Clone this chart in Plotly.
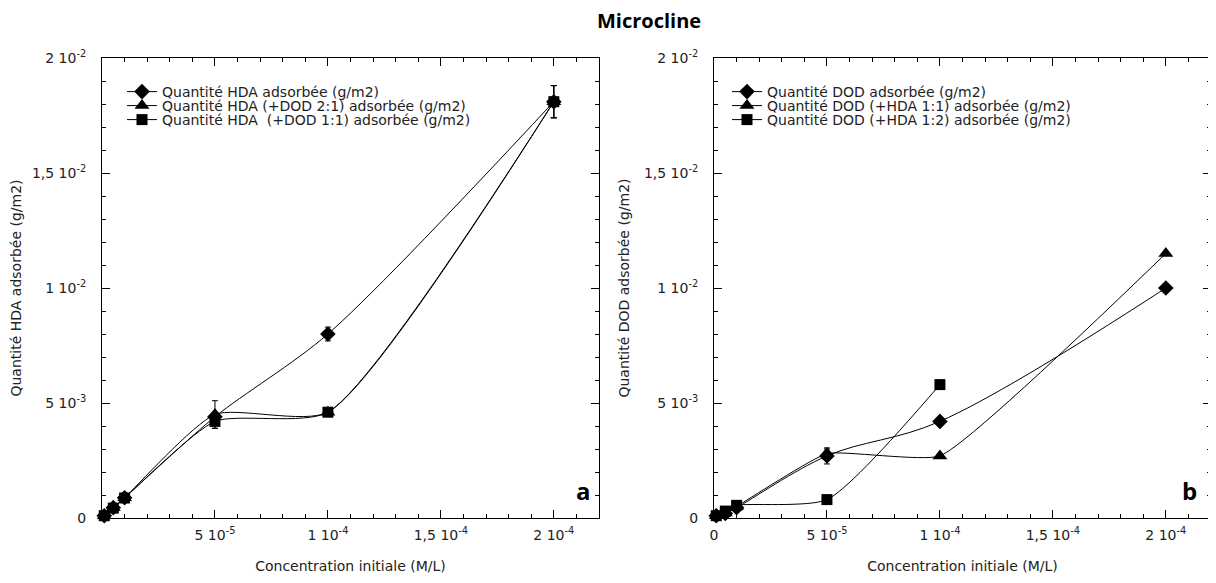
import plotly.graph_objects as go

# concentration initiale (M/L)
conc = [1e-6, 5e-6, 1e-5, 5e-5, 1e-4, 2e-4]
conc_short = [1e-6, 5e-6, 1e-5, 5e-5, 1e-4]

# panel a : HDA adsorbee (g/m2)
hda_seul = [0.0001, 0.00045, 0.00088, 0.0044, 0.0080, 0.0181]
hda_seul_err = [0, 0, 0, 0.0002, 0.0003, 0.0007]
hda_dod21 = [0.0001, 0.00045, 0.00088, 0.0045, 0.0046, 0.0181]
hda_dod21_err = [0, 0, 0, 0.0006, 0.0001, 0.0007]
hda_dod11 = [0.0001, 0.00043, 0.00087, 0.0042, 0.0046, 0.0181]
hda_dod11_err = [0, 0, 0, 0.0003, 0.0001, 0.0007]

# panel b : DOD adsorbee (g/m2)
dod_seul = [0.0001, 0.0002, 0.00045, 0.0027, 0.0042, 0.0100]
dod_seul_err = [0, 0, 0, 0.00035, 0.0001, 0]
dod_hda11 = [0.0001, 0.00022, 0.0005, 0.0028, 0.0027, 0.0115]
dod_hda11_err = [0, 0, 0, 0.0002, 0, 0]
dod_hda12 = [0.0001, 0.0003, 0.00055, 0.0008, 0.0058]

x_vals_a = [5e-5, 1e-4, 1.5e-4, 2e-4]
x_vals_b = [0, 5e-5, 1e-4, 1.5e-4, 2e-4]
x_text = {0: "0", 5e-5: "5 10<sup>-5</sup>", 1e-4: "1 10<sup>-4</sup>",
          1.5e-4: "1,5 10<sup>-4</sup>", 2e-4: "2 10<sup>-4</sup>"}
y_vals = [0, 5e-3, 1e-2, 1.5e-2, 2e-2]
y_text = ["0", "5 10<sup>-3</sup>", "1 10<sup>-2</sup>", "1,5 10<sup>-2</sup>", "2 10<sup>-2</sup>"]

W, H = 1216, 583
OFF = 8  # page body margin of the html page


def px(x):
    return (x - OFF) / W


def py(y):
    return 1 - (y - OFF) / H


FONT = "DejaVu Sans"
TXT = "#222"
FS = 14

fig = go.Figure()


def add_serie(x, y, err, name, symbol, size, xa, ya, leg, smooth=1.0):
    kw = {}
    if err is not None:
        kw["error_y"] = dict(type="data", array=err, visible=True, color="black",
                             thickness=1, width=3)
    fig.add_trace(go.Scatter(
        x=x, y=y, name=name, mode="lines+markers",
        line=dict(color="black", width=1, shape="spline", smoothing=smooth),
        marker=dict(symbol=symbol, size=size, color="black"),
        xaxis=xa, yaxis=ya, legend=leg, cliponaxis=False, **kw
    ))


add_serie(conc, hda_seul, hda_seul_err, "Quantité HDA adsorbée (g/m2)", "diamond", 12, "x", "y", "legend", 0.8)
add_serie(conc, hda_dod21, hda_dod21_err, "Quantité HDA (+DOD 2:1) adsorbée (g/m2)", "triangle-up", 13, "x", "y", "legend2", 0.6)
add_serie(conc, hda_dod11, hda_dod11_err, "Quantité HDA  (+DOD 1:1) adsorbée (g/m2)", "square", 11, "x", "y", "legend3", 0.6)

add_serie(conc, dod_seul, dod_seul_err, "Quantité DOD adsorbée (g/m2)", "diamond", 12, "x2", "y2", "legend4", 1.0)
add_serie(conc, dod_hda11, dod_hda11_err, "Quantité DOD (+HDA 1:1) adsorbée (g/m2)", "triangle-up", 13, "x2", "y2", "legend5", 0.4)
add_serie(conc_short, dod_hda12, None, "Quantité DOD (+HDA 1:2) adsorbée (g/m2)", "square", 11, "x2", "y2", "legend6", 0.6)

axis_common = dict(
    showline=True, linecolor="black", linewidth=1, mirror="ticks", automargin=False,
    ticks="inside", ticklen=8, tickcolor="black", showgrid=False, zeroline=False,
    tickfont=dict(family=FONT, size=FS, color=TXT),
)
xaxis_common = dict(axis_common, range=[0, 2.2e-4], tickmode="array", ticklabelstandoff=4,
                    minor=dict(dtick=1e-5, ticks="inside", ticklen=4, tickcolor="black"),
                    title=dict(text="Concentration initiale (M/L)", standoff=19,
                               font=dict(family=FONT, size=FS, color=TXT)))
yaxis_common = dict(axis_common, range=[0, 0.02], tickmode="array", ticklabelstandoff=12,
                    tickvals=y_vals, ticktext=y_text,
                    minor=dict(dtick=1e-3, ticks="inside", ticklen=4, tickcolor="black"))

legend_common = dict(bgcolor="rgba(0,0,0,0)", font=dict(family=FONT, size=FS, color=TXT),
                     yanchor="middle", xanchor="left")
rows = [92, 106, 120]

fig.update_layout(
    width=W, height=H,
    margin=dict(l=0, r=0, t=0, b=0, autoexpand=False),
    paper_bgcolor="white", plot_bgcolor="white",
    showlegend=True,
    xaxis=dict(xaxis_common, domain=[px(102), px(599)], anchor="y",
               tickvals=x_vals_a, ticktext=[x_text[v] for v in x_vals_a]),
    yaxis=dict(yaxis_common, domain=[py(518), py(58)], anchor="x",
               title=dict(text="Quantité HDA adsorbée (g/m2)", standoff=10,
                          font=dict(family=FONT, size=FS, color=TXT))),
    xaxis2=dict(xaxis_common, domain=[px(714), px(1211)], anchor="y2",
                tickvals=x_vals_b, ticktext=[x_text[v] for v in x_vals_b]),
    yaxis2=dict(yaxis_common, domain=[py(518), py(58)], anchor="x2",
                title=dict(text="Quantité DOD adsorbée (g/m2)", standoff=10,
                           font=dict(family=FONT, size=FS, color=TXT))),
    legend=dict(legend_common, x=px(122), y=py(rows[0])),
    legend2=dict(legend_common, x=px(122), y=py(rows[1])),
    legend3=dict(legend_common, x=px(122), y=py(rows[2])),
    legend4=dict(legend_common, x=px(727), y=py(rows[0])),
    legend5=dict(legend_common, x=px(727), y=py(rows[1])),
    legend6=dict(legend_common, x=px(727), y=py(rows[2])),
    annotations=[
        dict(text="<b>Microcline</b>", xref="paper", yref="paper", x=px(649), y=py(20),
             xanchor="center", yanchor="middle", showarrow=False,
             font=dict(family="Open Sans", size=20, color="black")),
        dict(text="<b>a</b>", xref="paper", yref="paper", x=px(593), y=py(490),
             xanchor="right", yanchor="middle", showarrow=False,
             font=dict(family="Open Sans", size=24, color="black")),
        dict(text="<b>b</b>", xref="paper", yref="paper", x=px(1199), y=py(490),
             xanchor="right", yanchor="middle", showarrow=False,
             font=dict(family="Open Sans", size=24, color="black")),
    ],
)

fig.write_html("out.html")
